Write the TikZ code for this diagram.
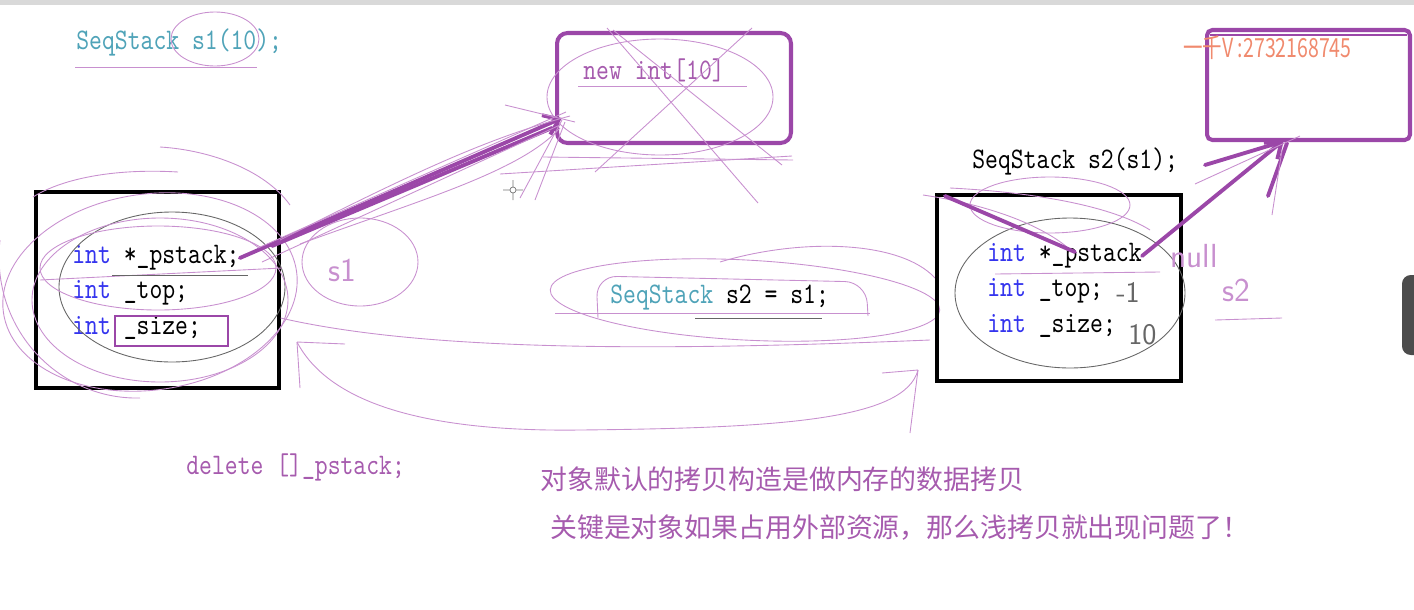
\documentclass[tikz,border=0pt]{standalone}
\usepackage{fontspec}
\setmonofont{lmmono10-regular}[Extension=.otf, FakeStretch=0.82]
\newfontfamily\cjk{Noto Sans CJK SC}
\usetikzlibrary{positioning,arrows.meta}

\definecolor{inkpurple}{HTML}{9B47A8}
\definecolor{lightpurple}{HTML}{C890CF}
\definecolor{codeteal}{HTML}{4FA3B8}
\definecolor{codeblue}{HTML}{3434EE}
\definecolor{notepurple}{HTML}{A65BAE}
\definecolor{wmorange}{HTML}{F08A6E}

\tikzset{
  code/.style={anchor=west, inner sep=0pt, font=\fontsize{17}{19}\selectfont\ttfamily},
  memberbox/.style={draw=black, line width=1.8pt},
  heapbox/.style={draw=inkpurple, line width=2.3pt, rounded corners=6pt},
  pen/.style={draw=lightpurple, line width=0.5pt},
  grey pen/.style={draw=black!60, line width=0.5pt},
  thickpen/.style={draw=inkpurple, line width=2.2pt, line cap=round},
  hand/.style={inner sep=0pt, text=lightpurple, font=\sffamily\fontsize{19}{19}\selectfont},
  note/.style={anchor=west, inner sep=0pt, text=notepurple, font=\cjk\fontsize{15.3}{17}\selectfont},
}
\newcommand{\kw}[1]{\textcolor{codeblue}{#1}}

\begin{document}
\begin{tikzpicture}[x=0.02cm, y=-0.02cm]
\useasboundingbox (0,0) rectangle (1414,609);
\fill[black!15] (0,0) rectangle (1414,5);

% ---- object s1 ----
\node[code, text=codeteal] (s1decl) at (76,42) {SeqStack s1(10);};
\draw[pen] (75,67) -- (257,67);
\draw[pen] (215,39) ellipse (44 and 27);

\node[memberbox, minimum width=4.86cm, minimum height=3.92cm] (s1box) at (157.5,290) {};
\node[code] (s1ptr) at (72,258) {\kw{int} *\_pstack;};
\node[code] (s1top) at (72,293) {\kw{int} \_top;};
\node[code] (s1size) at (72,328) {\kw{int} \_size;};
\node[draw=inkpurple, line width=1.5pt, minimum width=2.26cm, minimum height=0.6cm] (sizebox) at (171.5,331) {};
\draw[grey pen] (172,287) ellipse (113 and 75);
\draw[pen] (160,300) ellipse (128 and 82);
\draw[pen, rotate around={8:(150,292)}] (150,292) ellipse (148 and 98);
\draw[pen] (158,268) ellipse (118 and 42);
\draw[pen] (40,280) -- (282,268);
\draw[grey pen] (112,275) -- (248,275);
\draw[pen] (33,197) .. controls (60,180) and (110,168) .. (178,172);
\draw[pen] (160,147) .. controls (210,150) and (265,170) .. (290,205);
\draw[pen] (0,240) .. controls (-10,330) and (60,400) .. (140,398);

% s1 label
\node[hand] (s1name) at (342,270) {s1};
\draw[pen] (360,262) ellipse (58 and 44);

% ---- heap block of s1 ----
\node[heapbox, minimum width=4.68cm, minimum height=2.2cm] (heap1) at (674,88) {};
\node[code, text=notepurple] (newint) at (583,70) {new int[10]};
\draw[pen] (578,86) -- (747,86);
\draw[pen] (660,97) ellipse (113 and 58);
\draw[pen] (607,28) -- (758,203);
\draw[pen] (752,28) -- (595,172);
\draw[pen] (613,30) -- (782,165);
\draw[pen] (543,157) -- (793,160);
\coordinate (hit1) at (562,118);

\draw[thickpen, -{Straight Barb[length=8pt,width=12pt]}] (s1ptr.east) -- (hit1);
\draw[thickpen] (272,246) -- (552,128);
\draw[pen] (258,248) -- (566,112);
\draw[pen] (262,262) -- (560,125);
\draw[pen] (280,240) .. controls (400,180) and (480,140) .. (570,116);
\draw[pen] (300,244) .. controls (420,200) and (520,172) .. (560,128);
\draw[pen] (505,105) -- (575,122);
\draw[pen] (520,198) -- (562,120);
\draw[pen] (535,200) -- (565,122);
\draw[pen] (500,174) -- (792,156);

% cursor
\draw[black!55, line width=0.4pt] (513,190) circle (3) (503,190) -- (510,190) (516,190) -- (523,190) (513,180) -- (513,187) (513,193) -- (513,200);

% ---- copy statement ----
\node[code] (s2copy) at (610,298) {\textcolor{codeteal}{SeqStack} s2 = s1;};
\draw[pen] (555,313) -- (870,313);
\draw[grey pen] (695,318) -- (822,318);
\draw[pen, rounded corners=12pt] (598,318) -- (596,276) -- (866,282) -- (868,316);
\draw[pen, rotate around={-3:(745,300)}] (745,300) ellipse (195 and 40);
\draw[pen] (720,262) .. controls (800,238) and (900,240) .. (935,278);

% ---- connectors between s1 and s2 ----
\coordinate (loopL) at (297,342);
\coordinate (loopR) at (918,370);
\draw[pen] (s1box.east |- 0,318) .. controls (420,350) and (640,352) .. (930,340);
\draw[pen] (loopL) .. controls (330,405) and (430,432) .. (580,430) .. controls (780,428) and (905,420) .. (loopR);
\draw[pen] (loopL) -- (345,344);
\draw[pen] (loopL) -- (300,388);
\draw[pen] (loopR) -- (882,373);
\draw[pen] (loopR) -- (910,433);

% ---- object s2 ----
\node[code] (s2decl) at (972,161) {SeqStack s2(s1);};
\node[memberbox, minimum width=4.88cm, minimum height=3.72cm] (s2box) at (1059,288) {};
\node[code] (s2ptr) at (987,256) {\kw{int} *\_pstack};
\node[code] (s2top) at (987,291) {\kw{int} \_top;};
\node[code] (s2size) at (987,326) {\kw{int} \_size;};
\node[hand, text=black!60, font=\sffamily\fontsize{17}{17}\selectfont, anchor=west] (topval) at (1116,292) {-1};
\node[hand, text=black!60, font=\sffamily\fontsize{17}{17}\selectfont, anchor=west] (sizeval) at (1128,335) {10};
\draw[grey pen] (1070,293) ellipse (115 and 75);
\draw[pen] (923,195) .. controls (990,205) and (1040,225) .. (1067,247);
\draw[pen] (950,188) .. controls (1030,192) and (1110,205) .. (1150,230);
\draw[pen] (995,274) -- (1160,272);
\draw[pen] (1050,205) ellipse (80 and 28);
\draw[thickpen] (945,196) -- (1075,252);

% ---- heap block of s2 ----
\node[heapbox, rounded corners=3pt, minimum width=4.06cm, minimum height=2.2cm] (heap2) at (1308.5,85) {};
\draw[inkpurple, line width=1.5pt] (1210,35) -- (1407,35);
\node[inner sep=0pt, anchor=west, text=wmorange, font=\cjk\fontsize{15}{15}\selectfont] (wmark) at (1183,48) {\scalebox{0.74}[1]{一千V :2732168745}};
\coordinate (hit2) at (1284,140);
\draw[thickpen, -{Straight Barb[length=8pt,width=12pt]}] (s2ptr.east) -- (hit2);
\draw[thickpen] (1205,165) -- (1278,143);
\draw[thickpen] (1268,196) -- (1287,143);
\draw[pen] (1195,184) -- (1300,136);
\draw[pen] (1272,215) -- (1282,150);

\node[hand, anchor=west] (nullnote) at (1170,256) {null};
\node[hand, anchor=west] (s2name) at (1222,290) {s2};
\draw[pen] (1215,320) -- (1282,318);

% right edge handle
\fill[black!70, rounded corners=5pt] (1402,275) rectangle (1425,355);

% ---- notes ----
\node[code, text=notepurple] (delnote) at (186,467) {delete []\_pstack;};
\node[note] (note1) at (540,479) {对象默认的拷贝构造是做内存的数据拷贝};
\node[note] (note2) at (550,528) {关键是对象如果占用外部资源，那么浅拷贝就出现问题了！};
\end{tikzpicture}
\end{document}
